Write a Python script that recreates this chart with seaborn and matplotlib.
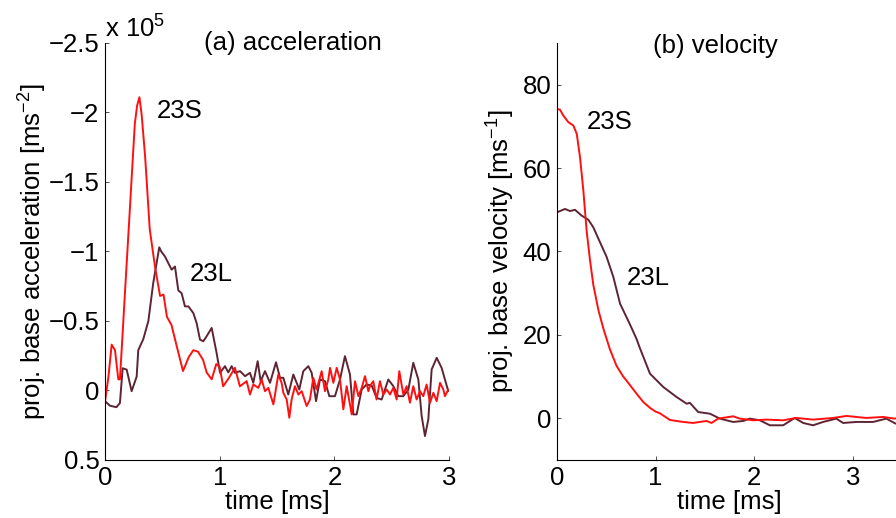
import matplotlib
matplotlib.use('Agg')
import matplotlib.pyplot as plt
import seaborn as sns
from matplotlib.ticker import FuncFormatter

# Acceleration (units of 1e5 ms^-2), time in ms
acc_t_23S = [0, 0.03, 0.058, 0.087, 0.116, 0.13, 0.15, 0.18, 0.21, 0.24, 0.26, 0.28, 0.30, 0.32,
             0.35, 0.39, 0.436, 0.48, 0.51, 0.54, 0.58, 0.625, 0.68, 0.73, 0.77, 0.81, 0.855, 0.886,
             0.93, 0.97, 1.00, 1.03, 1.08, 1.133, 1.176, 1.235, 1.264, 1.293, 1.337, 1.366, 1.395,
             1.424, 1.468, 1.511, 1.540, 1.555, 1.584, 1.607, 1.627, 1.656, 1.686, 1.715, 1.758,
             1.787, 1.816, 1.845, 1.889, 1.918, 1.947, 1.962, 1.991, 2.020, 2.049, 2.078, 2.107,
             2.151, 2.180, 2.209, 2.238, 2.267, 2.296, 2.310, 2.339, 2.368, 2.397, 2.427, 2.456,
             2.485, 2.514, 2.543, 2.566, 2.601, 2.630, 2.659, 2.688, 2.717, 2.746, 2.775, 2.804,
             2.834, 2.863, 2.892, 2.921, 2.950, 2.964, 2.993]
acc_23S = [0.08, -0.10, -0.33, -0.29, -0.08, -0.08, -0.36, -0.79, -1.21, -1.64, -1.92, -2.05, -2.11,
           -1.98, -1.68, -1.16, -0.89, -0.68, -0.69, -0.53, -0.47, -0.32, -0.14, -0.24, -0.29, -0.28,
           -0.22, -0.13, -0.08, -0.19, -0.17, -0.03, -0.09, -0.163, -0.03, -0.067, 0.029, -0.043,
           -0.019, -0.079, 0.005, -0.019, 0.10, -0.115, -0.055, 0.017, 0.065, 0.196, 0.065, -0.031,
           0.029, 0.005, 0.112, 0.065, -0.091, -0.007, -0.139, 0.005, -0.079, -0.163, -0.055, -0.163,
           -0.079, 0.136, -0.031, 0.172, -0.067, 0.041, -0.019, -0.103, 0.005, -0.031, -0.067, 0.065,
           -0.067, 0.029, -0.007, 0.029, -0.019, 0.065, -0.139, 0.029, -0.031, 0.088, -0.031, 0.065,
           0.005, 0.041, -0.043, 0.088, 0.017, 0.077, -0.055, -0.007, 0.041, -0.007]

acc_t_23L = [0, 0.044, 0.10, 0.13, 0.154, 0.189, 0.232, 0.276, 0.29, 0.334, 0.378, 0.42, 0.473, 0.49,
             0.523, 0.552, 0.581, 0.61, 0.639, 0.668, 0.697, 0.727, 0.770, 0.799, 0.828, 0.857, 0.886,
             0.93, 0.973, 1.003, 1.046, 1.075, 1.104, 1.133, 1.177, 1.221, 1.264, 1.293, 1.331, 1.357,
             1.395, 1.439, 1.491, 1.526, 1.555, 1.598, 1.642, 1.694, 1.729, 1.773, 1.802, 1.840, 1.874,
             1.918, 1.956, 2.005, 2.049, 2.092, 2.136, 2.165, 2.194, 2.238, 2.281, 2.325, 2.368, 2.412,
             2.470, 2.514, 2.557, 2.601, 2.645, 2.688, 2.732, 2.761, 2.790, 2.819, 2.848, 2.892, 2.935,
             2.993]
acc_23L = [0.077, 0.11, 0.12, 0.09, -0.16, -0.15, 0.005, -0.10, -0.29, -0.37, -0.50, -0.77, -1.03,
           -1.0, -0.964, -0.916, -0.869, -0.892, -0.72, -0.70, -0.605, -0.605, -0.557, -0.485, -0.366,
           -0.354, -0.39, -0.45, -0.27, -0.127, -0.175, -0.13, -0.175, -0.127, -0.139, -0.103, -0.127,
           -0.055, -0.211, -0.067, -0.139, -0.055, -0.203, -0.091, -0.091, 0.029, -0.115, -0.007,
           -0.139, -0.175, -0.127, 0.077, -0.079, -0.067, 0.041, 0.041, -0.079, -0.247, -0.115, 0.172,
           0.172, -0.007, -0.043, -0.036, 0.053, 0.065, -0.079, -0.031, 0.041, 0.041, -0.007, -0.199,
           -0.079, 0.184, 0.328, 0.208, -0.151, -0.235, -0.163, 0.005]

# Velocity (ms^-1)
vel_t_23S = [0, 0.03, 0.064, 0.115, 0.166, 0.20, 0.233, 0.267, 0.30, 0.334, 0.368, 0.419, 0.47, 0.537,
             0.605, 0.672, 0.706, 0.807, 0.875, 0.943, 1.0, 1.044, 1.145, 1.28, 1.38, 1.517, 1.567,
             1.635, 1.787, 1.854, 1.99, 2.125, 2.294, 2.428, 2.598, 2.80, 2.936, 3.138, 3.307, 3.425,
             3.5]
vel_23S = [74.2, 74.0, 72.6, 71.0, 70.2, 68.2, 62.6, 54.6, 45.0, 38.0, 32.0, 26.0, 21.5, 16.5, 12.5,
           10.0, 9.0, 5.9, 3.9, 2.5, 1.6, 1.2, -0.4, -0.88, -1.12, -0.64, -1.12, -0.08, 0.48, -0.08,
           -0.48, -0.32, -0.48, 0.08, -0.32, 0.08, 0.56, 0.08, 0.32, -0.08, 0.2]

vel_t_23L = [0, 0.081, 0.132, 0.182, 0.25, 0.318, 0.368, 0.436, 0.503, 0.571, 0.639, 0.74, 0.807,
             0.841, 0.943, 1.078, 1.213, 1.315, 1.348, 1.432, 1.551, 1.652, 1.787, 1.888, 1.956, 2.058,
             2.159, 2.294, 2.412, 2.497, 2.598, 2.699, 2.834, 2.902, 3.037, 3.206, 3.341, 3.435, 3.5]
vel_23L = [49.4, 50.2, 49.7, 50.0, 48.6, 47.6, 45.8, 42.2, 38.7, 33.9, 27.5, 22.5, 19.0, 16.8, 10.7,
           7.5, 5.1, 3.5, 3.7, 1.5, 1.1, -0.08, -0.88, -0.64, -0.08, -0.48, -1.68, -1.68, 0.08, -1.12,
           -1.68, -0.88, -0.08, -1.12, -0.88, -0.88, -0.08, -1.28, -1.0]

red = '#ff1010'
dark = '#5e2434'
fs = 18.5

sns.set_style('ticks', {'xtick.direction': 'in', 'ytick.direction': 'in',
                        'axes.edgecolor': 'black', 'text.color': 'black',
                        'axes.labelcolor': 'black', 'xtick.color': 'black',
                        'ytick.color': 'black'})
plt.rcParams['font.family'] = ['Liberation Sans', 'DejaVu Sans']
plt.rcParams['mathtext.fontset'] = 'custom'
plt.rcParams['mathtext.rm'] = 'Liberation Sans'
plt.rcParams['mathtext.default'] = 'regular'
plt.rcParams['axes.linewidth'] = 0.8

fig = plt.figure(figsize=(8.96, 5.18), dpi=100)
ax1 = fig.add_axes([0.1172, 0.112, 0.384, 0.805])
ax2 = fig.add_axes([0.6217, 0.112, 0.385, 0.805])


def minus_fmt(v, pos):
    return ('%g' % v).replace('-', '\u2212')


def style(ax):
    sns.despine(ax=ax)
    ax.tick_params(axis='both', labelsize=fs, length=3, width=0.6, color='#333333',
                   labelcolor='black')
    ax.tick_params(axis='y', pad=4)
    ax.tick_params(axis='x', pad=4.5)
    ax.set_xlabel('time [ms]', fontsize=fs, labelpad=0, color='black')
    ax.yaxis.set_major_formatter(FuncFormatter(minus_fmt))


# (a) acceleration
sns.lineplot(x=acc_t_23L, y=acc_23L, ax=ax1, color=dark, lw=1.4, estimator=None)
sns.lineplot(x=acc_t_23S, y=acc_23S, ax=ax1, color=red, lw=1.4, estimator=None)
ax1.set_xlim(0, 3)
ax1.set_ylim(0.5, -2.5)
ax1.set_xticks([0, 1, 2, 3])
ax1.set_yticks([-2.5, -2, -1.5, -1, -0.5, 0, 0.5])
style(ax1)
ax1.set_ylabel('proj. base acceleration [ms$^{-2}$]', fontsize=fs, va='center', color='black')
ax1.yaxis.set_label_coords(-0.209, 0.5)
ax1.text(0.547, 0.983, '(a) acceleration', transform=ax1.transAxes, fontsize=fs,
         ha='center', va='baseline', color='black')
ax1.text(0.0, 1.012, 'x 10$^{5}$', transform=ax1.transAxes, fontsize=fs,
         ha='left', va='baseline', color='black')
ax1.text(0.45, -1.96, '23S', fontsize=fs, ha='left', va='baseline', color='black')
ax1.text(0.741, -0.785, '23L', fontsize=fs, ha='left', va='baseline', color='black')

# (b) velocity
sns.lineplot(x=vel_t_23L, y=vel_23L, ax=ax2, color=dark, lw=1.4, estimator=None)
sns.lineplot(x=vel_t_23S, y=vel_23S, ax=ax2, color=red, lw=1.4, estimator=None)
ax2.set_xlim(0, 3.5)
ax2.set_ylim(-10, 90)
ax2.set_xticks([0, 1, 2, 3])
ax2.set_yticks([0, 20, 40, 60, 80])
style(ax2)
ax2.set_ylabel('proj. base velocity [ms$^{-1}$]', fontsize=fs, va='center', color='black')
ax2.yaxis.set_label_coords(-0.162, 0.5)
ax2.text(0.458, 0.976, '(b) velocity', transform=ax2.transAxes, fontsize=fs,
         ha='center', va='baseline', color='black')
ax2.text(0.30, 69.4, '23S', fontsize=fs, ha='left', va='baseline', color='black')
ax2.text(0.706, 31.9, '23L', fontsize=fs, ha='left', va='baseline', color='black')

fig.savefig('out.png', dpi=100)
